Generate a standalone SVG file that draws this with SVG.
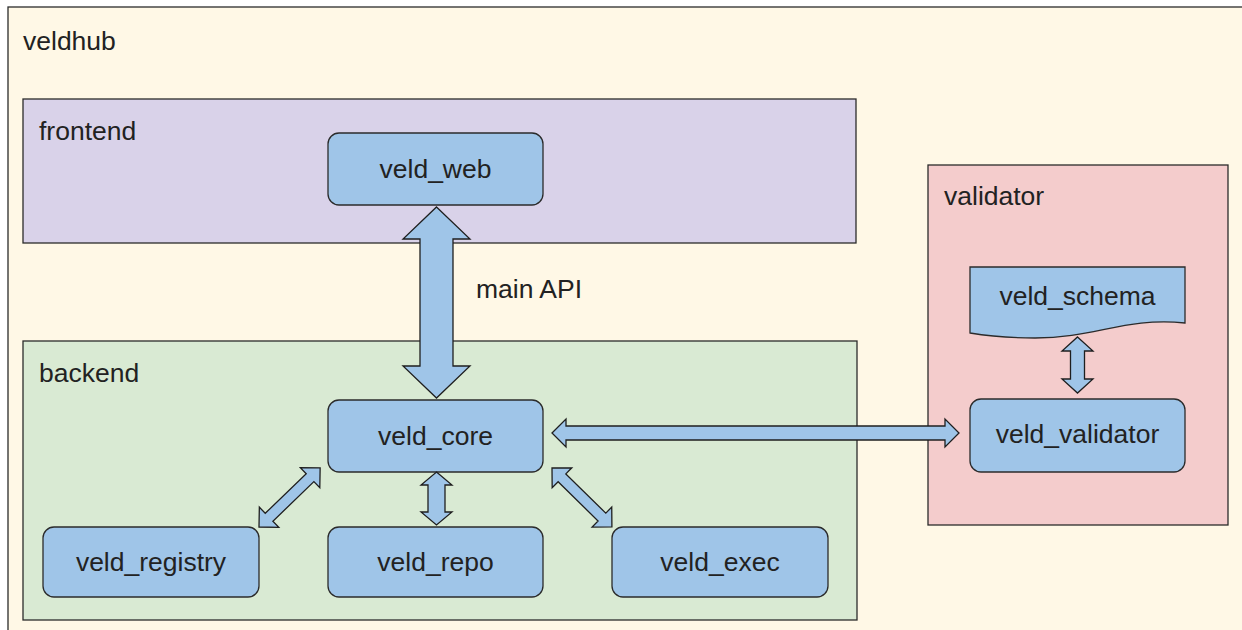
<svg xmlns="http://www.w3.org/2000/svg" width="1242" height="630" viewBox="0 0 1242 630">
  <defs>
    <style>
      .frame { stroke: #2b2b2b; stroke-width: 1.3; }
      .node { fill: #9fc5e8; stroke: #2b2b2b; stroke-width: 1.3; }
      .link { fill: #9fc5e8; stroke: #1f1f1f; stroke-width: 1.3; stroke-linejoin: miter; }
      text { font-family: "Liberation Sans", Arial, sans-serif; font-size: 26.5px; fill: #222222; }
      .label { text-anchor: middle; }
    </style>
  </defs>

  <rect width="1242" height="630" fill="#ffffff"/>

  <!-- outer system boundary -->
  <g id="veldhub">
    <rect class="frame" x="8" y="7" width="1250" height="640" fill="#fff8e6"/>
    <text x="23" y="50">veldhub</text>
  </g>

  <!-- containers -->
  <g id="frontend">
    <rect class="frame" x="23" y="99" width="833" height="144" fill="#d9d2e9"/>
    <text x="39" y="140">frontend</text>
  </g>
  <g id="backend">
    <rect class="frame" x="23" y="341" width="834" height="279" fill="#d9ead3"/>
    <text x="39" y="382">backend</text>
  </g>
  <g id="validator">
    <rect class="frame" x="928" y="165" width="300" height="360" fill="#f4cccc"/>
    <text x="944" y="205">validator</text>
  </g>

  <!-- components -->
  <g id="veld_web">
    <rect class="node" x="328" y="133" width="215" height="72" rx="11"/>
    <text class="label" x="435.5" y="178">veld_web</text>
  </g>
  <g id="veld_core">
    <rect class="node" x="328" y="400" width="215" height="72" rx="11"/>
    <text class="label" x="435.5" y="445">veld_core</text>
  </g>
  <g id="veld_registry">
    <rect class="node" x="43" y="527" width="216" height="70" rx="11"/>
    <text class="label" x="151" y="571">veld_registry</text>
  </g>
  <g id="veld_repo">
    <rect class="node" x="328" y="527" width="215" height="70" rx="11"/>
    <text class="label" x="435.5" y="571">veld_repo</text>
  </g>
  <g id="veld_exec">
    <rect class="node" x="612" y="527" width="216" height="70" rx="11"/>
    <text class="label" x="720" y="571">veld_exec</text>
  </g>
  <g id="veld_schema">
    <path class="node" d="M970 267 H1185 V323 C1125 317 1095 338 1035 338 C1005 338 988 336 970 333 Z"/>
    <text class="label" x="1077.5" y="305">veld_schema</text>
  </g>
  <g id="veld_validator">
    <rect class="node" x="970" y="399" width="215" height="73" rx="11"/>
    <text class="label" x="1077.5" y="443">veld_validator</text>
  </g>

  <!-- connectors: double-headed block arrows -->
  <g id="connectors">
    <polygon class="link" points="436.5,207 470,239 453,239 453,366 470,366 436.5,398 403,366 420,366 420,239 403,239"/>
    <polygon class="link" points="436.5,472 452,485 445,485 445,512 452,512 436.5,525 421,512 428,512 428,485 421,485"/>
    <polygon class="link" points="1077.5,337 1093,351 1084.5,351 1084.5,379 1093,379 1077.5,393 1062,379 1070.5,379 1070.5,351 1062,351"/>
    <polygon class="link" points="552,433 566,419 566,426 945,426 945,419 959,433 945,447 945,440 566,440 566,447"/>
    <polygon class="link" transform="translate(259,527) rotate(-44)" points="0,0 14,-14 14,-5.5 71,-5.5 71,-14 85,0 71,14 71,5.5 14,5.5 14,14"/>
    <polygon class="link" transform="translate(552,468) rotate(44.5)" points="0,0 14,-14 14,-5.5 70,-5.5 70,-14 84,0 70,14 70,5.5 14,5.5 14,14"/>
    <text x="476" y="298">main API</text>
  </g>
</svg>
